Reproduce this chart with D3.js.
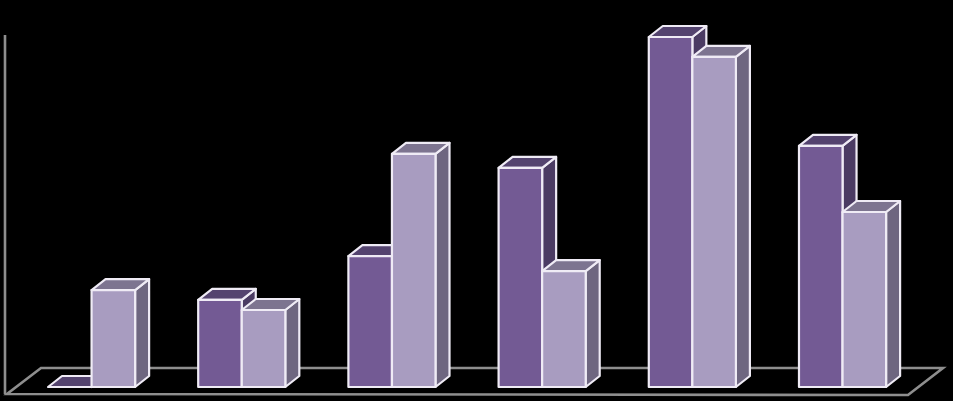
<!DOCTYPE html>
<html>
<head>
<meta charset="utf-8">
<script src="https://cdn.jsdelivr.net/npm/d3@7"></script>
<style>
html,body{margin:0;padding:0;background:#000;}
svg{display:block;}
</style>
</head>
<body>
<svg id="chart" width="953" height="401"></svg>
<script>
const categories = ["1", "2", "3", "4", "5", "6"];
const seriesNames = ["Series 1", "Series 2"];
const series1 = [0, 24.9, 37.4, 62.6, 100, 68.9];
const series2 = [27.7, 22.0, 66.6, 33.1, 94.3, 50.0];
const yDomain = [0, 100];

const fronts = ["#735a94", "#a89cc0"];
const tops = ["#54436f", "#7d7490"];
const sides = ["#4b3b63", "#6e6680"];
const outline = "#efebf5";

const svg = d3.select("#chart");
svg.append("rect").attr("width", 953).attr("height", 401).attr("fill", "#000");

const x = d3.scaleBand().domain(categories).range([48, 886.1]).paddingInner(0.42).paddingOuter(0);
const xs = d3.scaleBand().domain(seriesNames).range([0, x.bandwidth()]);
const y = d3.scaleLinear().domain(yDomain).range([387, 37]);

// floor and wall
const floorDx = 35, floorDy = -26;
const fl = 7, fr = 908, fy = 394;
svg.append("path")
  .attr("d", `M${fl},${fy} L${fr},${fy+1} L${fr+floorDx},${fy+floorDy} L${fl+floorDx-1},${fy+floorDy} Z`)
  .attr("fill", "none").attr("stroke", "#8e8e8e").attr("stroke-width", 2.6).attr("stroke-linejoin", "miter");
svg.append("line").attr("x1", 5).attr("x2", 5).attr("y1", 35).attr("y2", fy)
  .attr("stroke", "#8e8e8e").attr("stroke-width", 2.6);

const dx = 14, dy = -11;
const data = [series1, series2];

categories.forEach((c, i) => {
  data.forEach((vals, s) => {
    const x0 = x(c) + xs(seriesNames[s]);
    const w = xs.bandwidth();
    const yb = y(0);
    const yt = y(vals[i]);
    const g = svg.append("g");
    const style = sel => sel.attr("stroke", outline).attr("stroke-width", 2.2).attr("stroke-linejoin", "round");
    // side
    style(g.append("path")
      .attr("d", `M${x0+w},${yb} L${x0+w+dx},${yb+dy} L${x0+w+dx},${yt+dy} L${x0+w},${yt} Z`)
      .attr("fill", sides[s]));
    // top
    style(g.append("path")
      .attr("d", `M${x0},${yt} L${x0+dx},${yt+dy} L${x0+w+dx},${yt+dy} L${x0+w},${yt} Z`)
      .attr("fill", tops[s]));
    // front
    if (yb - yt > 0.5) {
      style(g.append("rect")
        .attr("x", x0).attr("y", yt).attr("width", w).attr("height", yb - yt)
        .attr("fill", fronts[s]));
    }
  });
});
</script>
</body>
</html>
